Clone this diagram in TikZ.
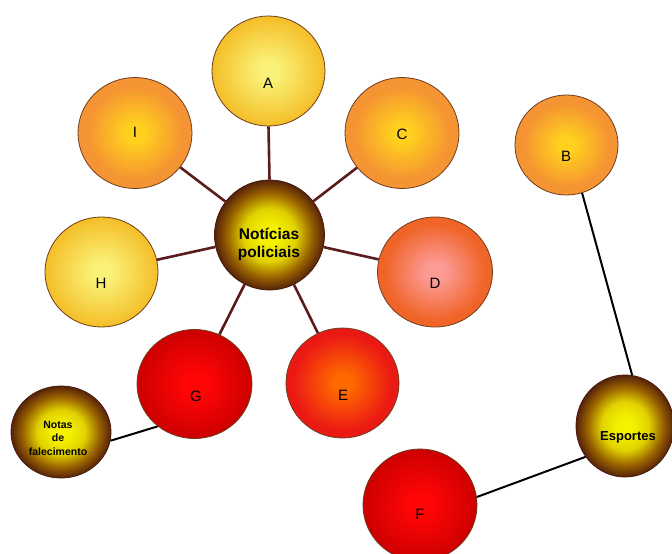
\documentclass[tikz,border=0pt]{standalone}
\usepackage{fontspec}
\setmainfont{Liberation Sans}
\usetikzlibrary{shapes.geometric}
\definecolor{yC}{RGB}{250,242,120}
\definecolor{yE}{RGB}{244,190,40}
\definecolor{oC}{RGB}{255,208,30}
\definecolor{oE}{RGB}{245,148,50}
\definecolor{dC}{RGB}{252,155,150}
\definecolor{dE}{RGB}{240,100,40}
\definecolor{eC}{RGB}{255,105,0}
\definecolor{eE}{RGB}{235,25,20}
\definecolor{rC}{RGB}{255,5,5}
\definecolor{rE}{RGB}{205,0,0}
\definecolor{nC}{RGB}{245,242,0}
\definecolor{nM}{RGB}{225,210,0}
\definecolor{nD}{RGB}{150,95,0}
\definecolor{nE}{RGB}{85,35,10}
\definecolor{bord}{RGB}{110,60,30}
\definecolor{bordD}{RGB}{70,25,10}
\definecolor{maroon}{RGB}{90,28,28}
\pgfdeclareradialshading{ballY}{\pgfpoint{0bp}{0bp}}{color(0bp)=(yC); color(4bp)=(yC); color(25bp)=(yE); color(50bp)=(yE)}
\pgfdeclareradialshading{ballO}{\pgfpoint{0bp}{0bp}}{color(0bp)=(oC); color(4bp)=(oC); color(21bp)=(oE); color(50bp)=(oE)}
\pgfdeclareradialshading{ballD}{\pgfpoint{0bp}{0bp}}{color(0bp)=(dC); color(4bp)=(dC); color(22bp)=(dE); color(50bp)=(dE)}
\pgfdeclareradialshading{ballE}{\pgfpoint{0bp}{0bp}}{color(0bp)=(eC); color(4bp)=(eC); color(22bp)=(eE); color(50bp)=(eE)}
\pgfdeclareradialshading{ballR}{\pgfpoint{0bp}{0bp}}{color(0bp)=(rC); color(5bp)=(rC); color(25bp)=(rE); color(50bp)=(rE)}
\pgfdeclareradialshading{ballN}{\pgfpoint{0bp}{0bp}}{color(0bp)=(nC); color(4bp)=(nC); color(12bp)=(nM); color(19.5bp)=(nD); color(25bp)=(nE); color(50bp)=(nE)}
\begin{document}
\begin{tikzpicture}[x=1pt,y=-1pt,
  ball/.style={ellipse, draw=bord, line width=0.8pt, inner sep=0pt, shade},
  darkball/.style={ellipse, draw=bordD, line width=0.8pt, inner sep=0pt, shade, shading=ballN},
  lbl/.style={font=\fontsize{15}{18}\selectfont, inner sep=0pt},
  blbl/.style={font=\bfseries\fontsize{15.5}{18}\selectfont, align=center, inner sep=0pt},
  spoke/.style={draw=maroon, line width=2.6pt},
  link/.style={draw=black, line width=2pt}]
\useasboundingbox (0,0) rectangle (672,554);
% outer nodes
\node[ball, shading=ballY, minimum width=113pt, minimum height=110pt] (A) at (268.5,71) {};
\node[ball, shading=ballO, minimum width=114pt, minimum height=111pt] (I) at (135,133) {};
\node[ball, shading=ballO, minimum width=114pt, minimum height=111pt] (C) at (402,133) {};
\node[ball, shading=ballO, minimum width=103pt, minimum height=100pt] (B) at (566.5,145) {};
\node[ball, shading=ballD, minimum width=115pt, minimum height=110pt] (D) at (435,272) {};
\node[ball, shading=ballY, minimum width=113pt, minimum height=110pt] (H) at (101.5,272) {};
\node[ball, shading=ballR, minimum width=115pt, minimum height=109pt] (G) at (194.5,384) {};
\node[ball, shading=ballE, minimum width=113pt, minimum height=110pt] (E) at (342.5,383) {};
\node[ball, shading=ballR, minimum width=114pt, minimum height=112pt] (F) at (420,505) {};
% dark nodes
\node[darkball, minimum width=110pt, minimum height=110pt] (N) at (269.5,235) {};
\node[darkball, minimum width=98pt, minimum height=102pt] (S) at (625,426) {};
\node[darkball, minimum width=100pt, minimum height=92pt] (T) at (61,432) {};
% labels
\node[lbl] (tA) at (268,83) {A};
\node[lbl] (tI) at (135,132) {I};
\node[lbl] (tC) at (402,134) {C};
\node[lbl] (tB) at (566,156) {B};
\node[lbl] (tD) at (435,283) {D};
\node[lbl] (tH) at (101,283) {H};
\node[lbl] (tG) at (196,396) {G};
\node[lbl] (tE) at (343,395) {E};
\node[lbl] (tF) at (420,514) {F};
\node[blbl] (tN) at (269,244) {Notícias\\policiais};
\node[font=\bfseries\fontsize{13}{15}\selectfont, inner sep=0pt] (tS) at (628,437) {Esportes};
\node[font=\bfseries\fontsize{10.5}{13.5}\selectfont, align=center, inner sep=0pt] (tT) at (58,438) {Notas\\de\\falecimento};
% spokes
\path[spoke] (N.90) -- (A.270);
\path[spoke] (N) -- (C);
\path[spoke] (N) -- (D);
\path[spoke] (N) -- (E);
\path[spoke] (N) -- (G);
\path[spoke] (N) -- (H);
\path[spoke] (N) -- (I);
% black links
\path[link] (T.-10) -- (G.229);
\path[link] (B.-72) -- (S.82);
\path[link] (S.218) -- (F.8);
\end{tikzpicture}
\end{document}
